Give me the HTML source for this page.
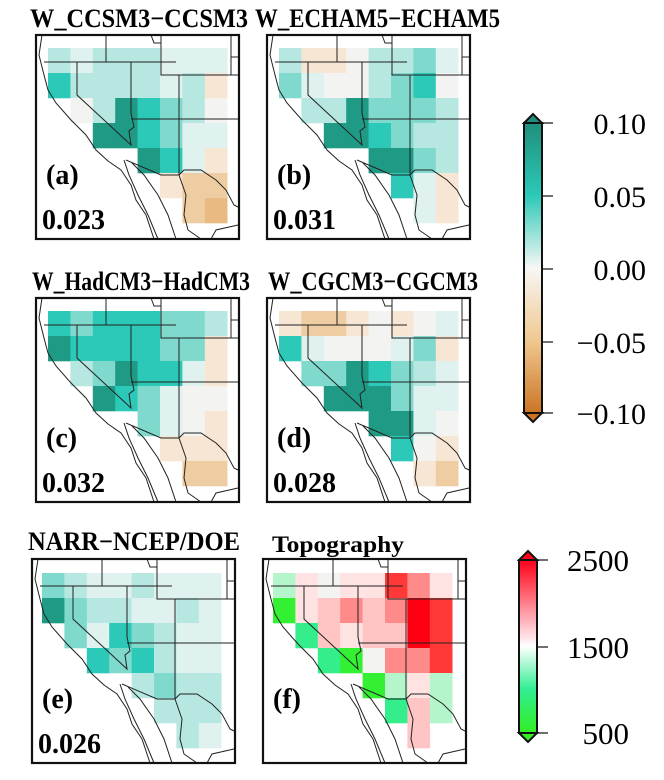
<!DOCTYPE html>
<html><head><meta charset="utf-8"><style>
html,body{margin:0;padding:0;background:#fff;}
svg{display:block;font-family:"Liberation Serif",serif;}
</style></head><body>
<svg id="s" width="664" height="780" viewBox="0 0 664 780" xmlns="http://www.w3.org/2000/svg">
<defs>
<linearGradient id="g1" x1="0" y1="0" x2="0" y2="1">
<stop offset="0" stop-color="#1f8f7c"/><stop offset="0.25" stop-color="#2cc9b7"/><stop offset="0.5" stop-color="#f7f7f5"/><stop offset="0.75" stop-color="#f0c890"/><stop offset="1" stop-color="#cc7424"/>
</linearGradient>
<linearGradient id="g2" x1="0" y1="0" x2="0" y2="1">
<stop offset="0" stop-color="#ff0018"/><stop offset="0.5" stop-color="#ffffff"/><stop offset="0.75" stop-color="#30ee90"/><stop offset="1" stop-color="#33ee22"/>
</linearGradient>
</defs>
<g font-weight="bold" font-size="26">
<text x="30" y="27" textLength="218" lengthAdjust="spacingAndGlyphs">W_CCSM3−CCSM3</text>
<text x="255" y="27" textLength="245" lengthAdjust="spacingAndGlyphs">W_ECHAM5−ECHAM5</text>
<text x="32" y="290" textLength="218" lengthAdjust="spacingAndGlyphs">W_HadCM3−HadCM3</text>
<text x="268" y="290" textLength="210" lengthAdjust="spacingAndGlyphs">W_CGCM3−CGCM3</text>
<text x="28" y="550" textLength="212" lengthAdjust="spacingAndGlyphs">NARR−NCEP/DOE</text>
<text x="272" y="552" font-size="23" textLength="132" lengthAdjust="spacingAndGlyphs">Topography</text>
</g>
<g id="panels"></g>
<g stroke="#222" stroke-width="1.3">
<line x1="542" y1="123" x2="553" y2="123"/><line x1="542" y1="196" x2="553" y2="196"/><line x1="542" y1="269" x2="553" y2="269"/><line x1="542" y1="342" x2="553" y2="342"/><line x1="542" y1="413" x2="553" y2="413"/>
</g>
<rect x="524" y="123" width="18" height="290" fill="url(#g1)" stroke="#111" stroke-width="2"/>
<polygon points="524,123 533,114 542,123" fill="#1f8f7c" stroke="#111" stroke-width="2"/>
<polygon points="524,413 533,422 542,413" fill="#cc7424" stroke="#111" stroke-width="2"/>
<g font-size="30" text-anchor="end">
<text x="646" y="134">0.10</text><text x="646" y="207">0.05</text><text x="646" y="280">0.00</text><text x="646" y="353">−0.05</text><text x="646" y="424">−0.10</text>
</g>
<g stroke="#222" stroke-width="1.3">
<line x1="537" y1="560" x2="548" y2="560"/><line x1="537" y1="647" x2="548" y2="647"/><line x1="537" y1="733" x2="548" y2="733"/>
</g>
<rect x="519" y="560" width="18" height="173" fill="url(#g2)" stroke="#111" stroke-width="2"/>
<polygon points="519,560 528,551 537,560" fill="#ff0018" stroke="#111" stroke-width="2"/>
<polygon points="519,733 528,742 537,733" fill="#33ee22" stroke="#111" stroke-width="2"/>
<g font-size="31" text-anchor="end">
<text x="629" y="571">2500</text><text x="629" y="658">1500</text><text x="629" y="744">500</text>
</g>
</svg>
<script>
var C={D:"#1f9a85",T:"#2cc8b8",M:"#80d9cd",L:"#b6e7e0",V:"#dff2ef",w:"#f3f3f1",o:"#f6e6d3",O:"#efcda3",P:"#e9bb82",
g:"#33f033",G:"#33ee8a",h:"#b5f5cc",p:"#ffe3e3",q:"#ffc4c4",r:"#ff8a8a",R:"#ff3838",X:"#ff0012"};
var P=[
{x:36,y:35,lab:"(a)",num:"0.023",gx:12,gy:13,g:["LVLLLVVV","TLLLLVLo","_wLDTMLw","__DDTMVV","____DTVo","_____oOO","______OP"]},
{x:267,y:35,lab:"(b)",num:"0.031",gx:12,gy:13,g:["LoowLLMV","MVwwLMTw","_LLDMMML","__DDTMLL","____DDML","_____TVo","______Vo"]},
{x:36,y:298,lab:"(c)",num:"0.032",gx:12,gy:13,g:["TMTTTMML","DTTTTMMo","_LMDTTVo","__DTMVww","____MVwo","_____ooo","______OO"]},
{x:267,y:298,lab:"(d)",num:"0.028",gx:12,gy:13,g:["oOOowowV","TVwwwVMo","_MMDTMLV","__DDDMVV","____DDVw","_____Two","______oO"]},
{x:32,y:559,lab:"(e)",num:"0.026",gx:10,gy:14,g:["MLVVLVVV","DMLLVVLV","_MVTMLVV","__TMTLVV","____LMLL","_____LLL","______LV"]},
{x:263,y:559,lab:"(f)",num:"",gx:10,gy:14,g:["hpwppRrp","gpqrqrXR","_GqpqqXR","__GgwrrR","____ghph","_____Gqh","______q_"]}
];
var out="";
var cw=22.4,ch=25;
P.forEach(function(p){
 var s='<g transform="translate('+p.x+','+p.y+')">';
 p.g.forEach(function(row,r){for(var c=0;c<8;c++){var k=row[c];if(C[k])s+='<rect x="'+(p.gx+c*cw).toFixed(1)+'" y="'+(p.gy+r*ch)+'" width="'+(cw+0.3)+'" height="'+(ch+0.3)+'" fill="'+C[k]+'"/>';}});
 s+='<g fill="none" stroke="#222" stroke-width="1">';
 s+='<polyline points="6,0 3,20 8,40 12,55 20,68 35,85 50,100 60,115 72,126 85,135 95,150 100,165 110,180 118,204"/>';
 s+='<polyline points="88,125 93,140 102,160 112,180 122,204"/>';
 s+='<polyline points="96,128 108,140 122,160 132,180 140,204"/>';
 s+='<polyline points="8,27 140,27"/><polyline points="70,0 70,27"/><polyline points="115,0 118,8 125,8"/>';
 s+='<polyline points="41,27 41,60 95,110 93,96 98,92 95,78 95,27"/>';
 s+='<polyline points="95,84 202,84"/><polyline points="143,40 143,140"/>';
 s+='<polyline points="125,0 125,40 202,40"/><polyline points="195,0 195,40"/><polyline points="195,22 202,22"/>';
 s+='<polyline points="90,125 125,140 143,140 148,135 165,135 180,145 190,155 198,170 202,172"/>';
 s+='<polyline points="143,140 150,160 148,180 152,195 165,204"/><polyline points="175,204 180,195 202,190"/>';
 s+='</g>';
 s+='<rect x="0" y="0" width="203" height="204" fill="none" stroke="#111" stroke-width="2.2"/>';
 s+='<text x="10" y="149" font-size="28" font-weight="bold">'+p.lab+'</text>';
 if(p.num)s+='<text x="6" y="194" font-size="28" font-weight="bold">'+p.num+'</text>';
 s+='</g>';
 out+=s;
});
document.getElementById("panels").innerHTML=out;
</script>
</body></html>
